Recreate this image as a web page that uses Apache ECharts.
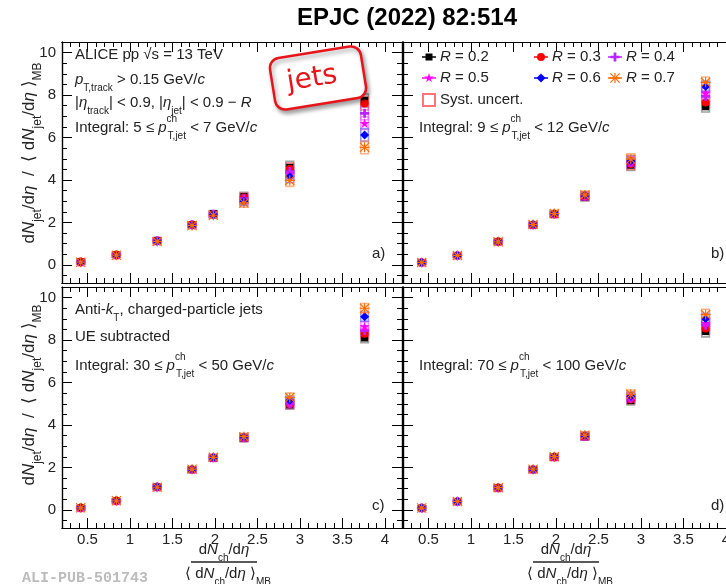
<!DOCTYPE html>
<html>
<head>
<meta charset="utf-8">
<script src="https://cdn.jsdelivr.net/npm/echarts@6/dist/echarts.min.js"></script>
<style>
html, body { margin: 0; padding: 0; background: #fff; }
#main { width: 726px; height: 584px; }
</style>
</head>
<body>
<div id="main"></div>
<script>
// multiplicity classes, dNch/deta / <dNch/deta>_MB
var xMult = [0.42, 0.84, 1.32, 1.73, 1.98, 2.34, 2.88, 3.76];
var radii = ['0.2', '0.3', '0.4', '0.5', '0.6', '0.7'];
var colors = ['#000000', '#ff0000', '#bb22ff', '#ff00ff', '#0000ff', '#ff6a00'];
var boxColors = ['rgba(90,90,90,0.55)', 'rgba(255,60,60,0.6)', 'rgba(190,90,255,0.6)',
                 'rgba(255,80,255,0.6)', 'rgba(80,80,255,0.6)', 'rgba(255,130,60,0.6)'];

// panel a) 5 < pT < 7
var a02 = [0.15, 0.48, 1.16, 1.90, 2.42, 3.22, 4.60, 7.75];
var a03 = [0.15, 0.48, 1.15, 1.90, 2.40, 3.18, 4.52, 7.60];
var a04 = [0.14, 0.47, 1.14, 1.89, 2.39, 3.12, 4.40, 7.14];
var a05 = [0.14, 0.47, 1.13, 1.88, 2.38, 3.06, 4.28, 6.68];
var a06 = [0.13, 0.46, 1.12, 1.87, 2.36, 3.00, 4.15, 6.12];
var a07 = [0.13, 0.46, 1.11, 1.86, 2.34, 2.92, 3.98, 5.54];
// panel b) 9 < pT < 12
var b02 = [0.12, 0.45, 1.10, 1.88, 2.38, 3.20, 4.70, 7.45];
var b03 = [0.12, 0.45, 1.10, 1.88, 2.39, 3.22, 4.75, 7.65];
var b04 = [0.12, 0.45, 1.10, 1.89, 2.40, 3.24, 4.82, 7.95];
var b05 = [0.12, 0.45, 1.10, 1.89, 2.40, 3.25, 4.85, 8.10];
var b06 = [0.12, 0.45, 1.09, 1.89, 2.41, 3.27, 4.90, 8.40];
var b07 = [0.12, 0.45, 1.09, 1.90, 2.42, 3.30, 4.98, 8.60];
// panel c) 30 < pT < 50
var c02 = [0.10, 0.43, 1.08, 1.90, 2.45, 3.38, 4.95, 8.10];
var c03 = [0.10, 0.43, 1.08, 1.90, 2.45, 3.39, 4.98, 8.30];
var c04 = [0.10, 0.43, 1.08, 1.90, 2.46, 3.40, 5.00, 8.45];
var c05 = [0.10, 0.43, 1.08, 1.91, 2.46, 3.41, 5.05, 8.65];
var c06 = [0.10, 0.43, 1.08, 1.91, 2.47, 3.42, 5.15, 9.10];
var c07 = [0.10, 0.43, 1.07, 1.92, 2.48, 3.45, 5.30, 9.50];
// panel d) 70 < pT < 100
var d02 = [0.09, 0.40, 1.04, 1.90, 2.48, 3.45, 5.15, 8.40];
var d03 = [0.09, 0.40, 1.04, 1.90, 2.48, 3.46, 5.20, 8.55];
var d04 = [0.09, 0.40, 1.04, 1.90, 2.49, 3.47, 5.25, 8.70];
var d05 = [0.09, 0.40, 1.04, 1.91, 2.49, 3.48, 5.30, 8.80];
var d06 = [0.09, 0.40, 1.05, 1.91, 2.50, 3.50, 5.35, 9.00];
var d07 = [0.09, 0.40, 1.05, 1.92, 2.51, 3.52, 5.45, 9.20];

// systematic half-heights per class
var sysA = [0.10, 0.10, 0.12, 0.12, 0.14, 0.20, 0.28, 0.30];
var sysB = [0.10, 0.10, 0.12, 0.12, 0.14, 0.18, 0.25, 0.25];
var sysC = [0.10, 0.10, 0.12, 0.12, 0.14, 0.16, 0.20, 0.22];
var sysD = [0.10, 0.10, 0.12, 0.12, 0.14, 0.16, 0.20, 0.25];

var xLabels = [0.5, 1, 1.5, 2, 2.5, 3, 3.5, 4];
var yLabels = [0, 2, 4, 6, 8, 10];

var panels = [
  [a02, a03, a04, a05, a06, a07],
  [b02, b03, b04, b05, b06, b07],
  [c02, c03, c04, c05, c06, c07],
  [d02, d03, d04, d05, d06, d07]
];
var systs = [sysA, sysB, sysC, sysD];

var F = '"Liberation Sans", Arial, Helvetica, sans-serif';

// marker outlines in a 100x100 box (ROOT-like markers)
var polyPlus = [[[35,0],[65,0],[65,35],[100,35],[100,65],[65,65],[65,100],[35,100],[35,65],[0,65],[0,35],[35,35]]];
var polyStar = [[[50,0],[61,35],[98,35],[68,57],[79,91],[50,70],[21,91],[32,57],[2,35],[39,35]]];
var polyAst = [
  [[44,0],[56,0],[56,100],[44,100]],
  [[0,44],[100,44],[100,56],[0,56]],
  [[8,0],[100,92],[92,100],[0,8]],
  [[92,0],[100,8],[8,100],[0,92]]
];
function toPath(polys) {
  return 'path://' + polys.map(function (p) {
    return 'M' + p.map(function (pt) { return pt[0] + ',' + pt[1]; }).join(' L') + ' Z';
  }).join(' ');
}
var symbols = ['rect', 'circle', toPath(polyPlus), toPath(polyStar), 'diamond', toPath(polyAst)];
var symPolys = [null, null, polyPlus, polyStar, null, polyAst];
var symSizes = [7, 8, 9, 10, 9, 10];

var xMinor = [], yMinor = [];
for (var t = 2; t <= 42; t++) xMinor.push(t / 10);
for (var u = -1; u <= 21; u++) yMinor.push(u / 2);

var grids = [
  { left: 62, top: 42, width: 340, height: 241 },
  { left: 403, top: 42, width: 340, height: 241 },
  { left: 62, top: 287, width: 340, height: 241 },
  { left: 403, top: 287, width: 340, height: 241 }
];

var labelStyle = { color: '#222', fontSize: 15, fontFamily: F };

function xAxisOf(g, pos, major, showLabel) {
  return {
    type: 'value', gridIndex: g, position: pos, min: 0.2, max: 4.2,
    axisLine: { show: true, onZero: false, lineStyle: { color: '#000', width: 1.2 } },
    axisTick: { show: true, inside: true, length: major ? 10 : 5,
                customValues: major ? xLabels : xMinor, lineStyle: { color: '#000', width: 1 } },
    axisLabel: Object.assign({ show: showLabel, customValues: xLabels, margin: 4 }, labelStyle),
    splitLine: { show: false }
  };
}
function yAxisOf(g, pos, major, showLabel) {
  return {
    type: 'value', gridIndex: g, position: pos, min: -0.85, max: 10.5,
    axisLine: { show: true, onZero: false, lineStyle: { color: '#000', width: 1.2 } },
    axisTick: { show: true, inside: true, length: major ? 10 : 5,
                customValues: major ? yLabels : yMinor, lineStyle: { color: '#000', width: 1 } },
    axisLabel: Object.assign({ show: showLabel, customValues: yLabels, margin: 6 }, labelStyle),
    splitLine: { show: false }
  };
}

var xAxes = [], yAxes = [], series = [];
grids.forEach(function (gr, g) {
  var bottomRow = g >= 2, leftCol = g % 2 === 0;
  xAxes.push(xAxisOf(g, 'bottom', true, bottomRow));
  xAxes.push(xAxisOf(g, 'bottom', false, false));
  xAxes.push(xAxisOf(g, 'top', true, false));
  xAxes.push(xAxisOf(g, 'top', false, false));
  yAxes.push(yAxisOf(g, 'left', true, leftCol));
  yAxes.push(yAxisOf(g, 'left', false, false));
  yAxes.push(yAxisOf(g, 'right', true, false));
  yAxes.push(yAxisOf(g, 'right', false, false));

  var boxData = [];
  panels[g].forEach(function (vals, r) {
    vals.forEach(function (v, i) { boxData.push([xMult[i], v, systs[g][i], r]); });
  });
  series.push({
    type: 'custom', xAxisIndex: g * 4, yAxisIndex: g * 4, z: 2, silent: true,
    data: boxData, encode: { x: 0, y: 1 },
    renderItem: function (params, api) {
      var x = api.value(0), y = api.value(1), s = api.value(2), r = api.value(3);
      var p1 = api.coord([x - 0.045, y + s]);
      var p2 = api.coord([x + 0.045, y - s]);
      return {
        type: 'rect',
        shape: { x: p1[0], y: p1[1], width: p2[0] - p1[0], height: p2[1] - p1[1] },
        style: { fill: 'none', stroke: boxColors[r], lineWidth: 1.6 }
      };
    }
  });
  panels[g].forEach(function (vals, r) {
    series.push({
      type: 'scatter', name: 'R = ' + radii[r],
      xAxisIndex: g * 4, yAxisIndex: g * 4, z: 3 + r,
      symbol: symbols[r], symbolSize: symSizes[r],
      itemStyle: { color: colors[r], opacity: 1 },
      data: vals.map(function (v, i) { return [xMult[i], v]; })
    });
  });
});

function richFor(fs) {
  var sub = Math.round(fs * 0.68);
  return {
    n: { fontSize: fs, fontFamily: F, lineHeight: fs + 12 },
    i: { fontSize: fs, fontFamily: F, fontStyle: 'italic', lineHeight: fs + 12 },
    s: { fontSize: sub, fontFamily: F, verticalAlign: 'bottom', lineHeight: sub + 1 },
    p: { fontSize: sub, fontFamily: F, verticalAlign: 'top', lineHeight: sub + 6, width: 1 }
  };
}
function txt(x, y, text, opts) {
  opts = opts || {};
  var fs = opts.fs || 15;
  return {
    type: 'text', x: x, y: y, rotation: opts.rot || 0, z: 50,
    style: {
      text: text, x: 0, y: 0, fill: opts.color || '#222',
      fontSize: fs, fontFamily: F, lineHeight: fs + 12,
      align: opts.align || 'left', verticalAlign: 'middle', rich: richFor(fs)
    }
  };
}

var graphics = [];
graphics.push({
  type: 'text', x: 407, y: 18, z: 50,
  style: { text: 'EPJC (2022) 82:514', fill: '#000', font: 'bold 24px ' + F, align: 'center', verticalAlign: 'middle' }
});

// panel texts
graphics.push(txt(75, 55, '{n|ALICE pp √s = 13 TeV}'));
graphics.push(txt(75, 80, '{i|p}{s|T,track}{n| > 0.15 GeV/}{i|c}'));
graphics.push(txt(75, 103, '{n||}{i|η}{s|track}{n|| < 0.9, |}{i|η}{s|jet}{n|| < 0.9 − }{i|R}'));
graphics.push(txt(75, 128, '{n|Integral: 5 ≤ }{i|p}{p|ch}{s|T,jet}{n| < 7 GeV/}{i|c}'));
graphics.push(txt(419, 128, '{n|Integral: 9 ≤ }{i|p}{p|ch}{s|T,jet}{n| < 12 GeV/}{i|c}'));
graphics.push(txt(75, 310, '{n|Anti-}{i|k}{s|T}{n|, charged-particle jets}'));
graphics.push(txt(75, 337, '{n|UE subtracted}'));
graphics.push(txt(75, 366, '{n|Integral: 30 ≤ }{i|p}{p|ch}{s|T,jet}{n| < 50 GeV/}{i|c}'));
graphics.push(txt(419, 366, '{n|Integral: 70 ≤ }{i|p}{p|ch}{s|T,jet}{n| < 100 GeV/}{i|c}'));

graphics.push(txt(372, 254, '{n|a)}'));
graphics.push(txt(711, 254, '{n|b)}'));
graphics.push(txt(372, 506, '{n|c)}'));
graphics.push(txt(711, 506, '{n|d)}'));

// y titles
var yTitle = '{n|d}{i|N}{s|jet}{n|/d}{i|η}{n|  /  ⟨ d}{i|N}{s|jet}{n|/d}{i|η}{n| ⟩}{s|MB}';
graphics.push(txt(29, 153, yTitle, { rot: Math.PI / 2, align: 'center', fs: 17 }));
graphics.push(txt(29, 395, yTitle, { rot: Math.PI / 2, align: 'center', fs: 17 }));

// x titles (fraction)
[224, 566].forEach(function (cx) {
  graphics.push(txt(cx, 550, '{n|d}{i|N}{s|ch}{n|/d}{i|η}', { align: 'center' }));
  graphics.push({ type: 'line', z: 50, shape: { x1: cx - 33, y1: 562, x2: cx + 33, y2: 562 },
                  style: { stroke: '#222', lineWidth: 1.3 } });
  graphics.push(txt(cx + 4, 574, '{n|⟨ d}{i|N}{s|ch}{n|/d}{i|η}{n| ⟩}{s|MB}', { align: 'center' }));
});

// legend
var legendPos = [[429, 57], [541, 57], [615, 57], [429, 78], [541, 78], [615, 78]];
legendPos.forEach(function (p, r) {
  graphics.push({ type: 'line', z: 50, shape: { x1: p[0] - 7, y1: p[1], x2: p[0] + 7, y2: p[1] },
                  style: { stroke: colors[r], lineWidth: 1.5 } });
  var sz = symSizes[r];
  var style = { fill: colors[r] };
  if (symbols[r] === 'rect') {
    graphics.push({ type: 'rect', z: 51, style: style,
      shape: { x: p[0] - sz / 2, y: p[1] - sz / 2, width: sz, height: sz } });
  } else if (symbols[r] === 'circle') {
    graphics.push({ type: 'circle', z: 51, style: style, shape: { cx: p[0], cy: p[1], r: sz / 2 } });
  } else if (symbols[r] === 'diamond') {
    graphics.push({ type: 'polygon', z: 51, style: style, shape: { points:
      [[p[0], p[1] - sz / 2], [p[0] + sz / 2, p[1]], [p[0], p[1] + sz / 2], [p[0] - sz / 2, p[1]]] } });
  } else {
    symPolys[r].forEach(function (poly) {
      graphics.push({ type: 'polygon', z: 51, style: style, shape: {
        points: poly.map(function (pt) { return [p[0] - sz / 2 + pt[0] * sz / 100, p[1] - sz / 2 + pt[1] * sz / 100]; })
      } });
    });
  }
  graphics.push(txt(p[0] + 11, p[1], '{i|R}{n| = ' + radii[r] + '}'));
});
graphics.push({ type: 'rect', z: 50, shape: { x: 423, y: 94, width: 12, height: 12 },
                style: { fill: 'none', stroke: 'rgba(255,60,60,0.7)', lineWidth: 2 } });
graphics.push(txt(440, 100, '{n|Syst. uncert.}'));

// jets sticker
graphics.push({
  type: 'group', x: 318, y: 78, rotation: 0.16, z: 60,
  children: [
    { type: 'rect', z: 60, shape: { x: -46, y: -26, width: 92, height: 52, r: 10 },
      style: { fill: '#fff', stroke: '#e8141b', lineWidth: 2.5,
               shadowBlur: 4, shadowColor: 'rgba(0,0,0,0.35)', shadowOffsetX: 2, shadowOffsetY: 3 } },
    { type: 'text', z: 61, style: { text: 'jets', x: -6, y: 0, fill: '#e8141b',
      font: '28px "DejaVu Sans", sans-serif', align: 'center', verticalAlign: 'middle' } }
  ]
});

graphics.push({
  type: 'text', x: 22, y: 578, z: 50,
  style: { text: 'ALI-PUB-501743', fill: '#bcbcbc', font: 'bold 15px "Liberation Mono", monospace',
           align: 'left', verticalAlign: 'middle' }
});

var myChart = echarts.init(document.getElementById('main'));
var option = {
  animation: false,
  backgroundColor: '#fff',
  grid: grids.map(function (g) { return Object.assign({ outerBoundsMode: 'none', containLabel: false }, g); }),
  xAxis: xAxes,
  yAxis: yAxes,
  series: series,
  graphic: graphics
};
myChart.setOption(option);
</script>
</body>
</html>
